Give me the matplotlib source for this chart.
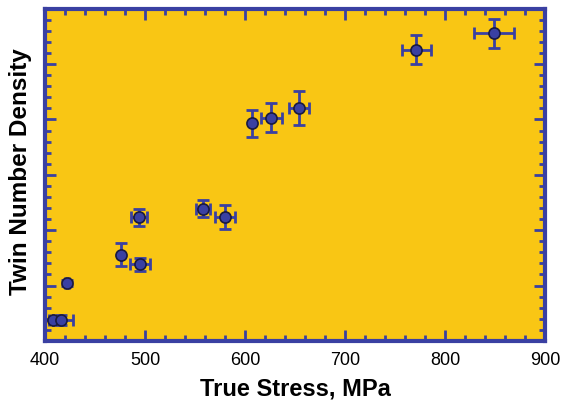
import matplotlib
matplotlib.use("Agg")
import matplotlib.pyplot as plt
from matplotlib.ticker import MultipleLocator, NullFormatter

plt.rcParams['font.family'] = ['Liberation Sans', 'DejaVu Sans']

# data
stress = [408, 416, 422, 476, 494, 495, 558, 580, 607, 626, 654, 771, 849]
density = [0.38, 0.38, 1.05, 1.56, 2.23, 1.38, 2.39, 2.24, 3.93, 4.03, 4.21, 5.26, 5.56]
stress_err = [0, 12, 2, 0, 8, 10, 7, 10, 0, 10.5, 10, 14.5, 20]
density_err = [0, 0.09, 0.05, 0.2, 0.16, 0.11, 0.16, 0.21, 0.24, 0.26, 0.31, 0.26, 0.26]

blue = '#3A40A2'
bg = '#F9C614'

fig = plt.figure(figsize=(5.61, 4.01), dpi=100)
ax = fig.add_axes([0.080, 0.150, 0.892, 0.828])
ax.set_facecolor(bg)

ax.errorbar(stress, density, xerr=stress_err, yerr=density_err, fmt='none',
            ecolor=blue, elinewidth=2, capsize=4, capthick=2, zorder=2)
ax.plot(stress, density, 'o', ms=8, mfc=blue, mec='#1a1a40', mew=1.2, zorder=3)

ax.set_xlim(400, 900)
ax.set_ylim(0, 6)
ax.xaxis.set_major_locator(MultipleLocator(100))
ax.xaxis.set_minor_locator(MultipleLocator(20))
ax.yaxis.set_major_locator(MultipleLocator(1))
ax.yaxis.set_minor_locator(MultipleLocator(0.2))
ax.yaxis.set_major_formatter(NullFormatter())

ax.tick_params(which='both', direction='in', top=True, right=True, color=blue, width=2)
ax.tick_params(which='major', length=8, labelsize=13, pad=8)
ax.tick_params(which='minor', length=4)
for s in ax.spines.values():
    s.set_color(blue)
    s.set_linewidth(3)

ax.set_xlabel('True Stress, MPa', fontsize=17, fontweight='bold', labelpad=6)
ax.set_ylabel('Twin Number Density', fontsize=17.5, fontweight='bold')
ax.yaxis.set_label_coords(-0.026, 0.51)

fig.savefig('out.png', dpi=100)
